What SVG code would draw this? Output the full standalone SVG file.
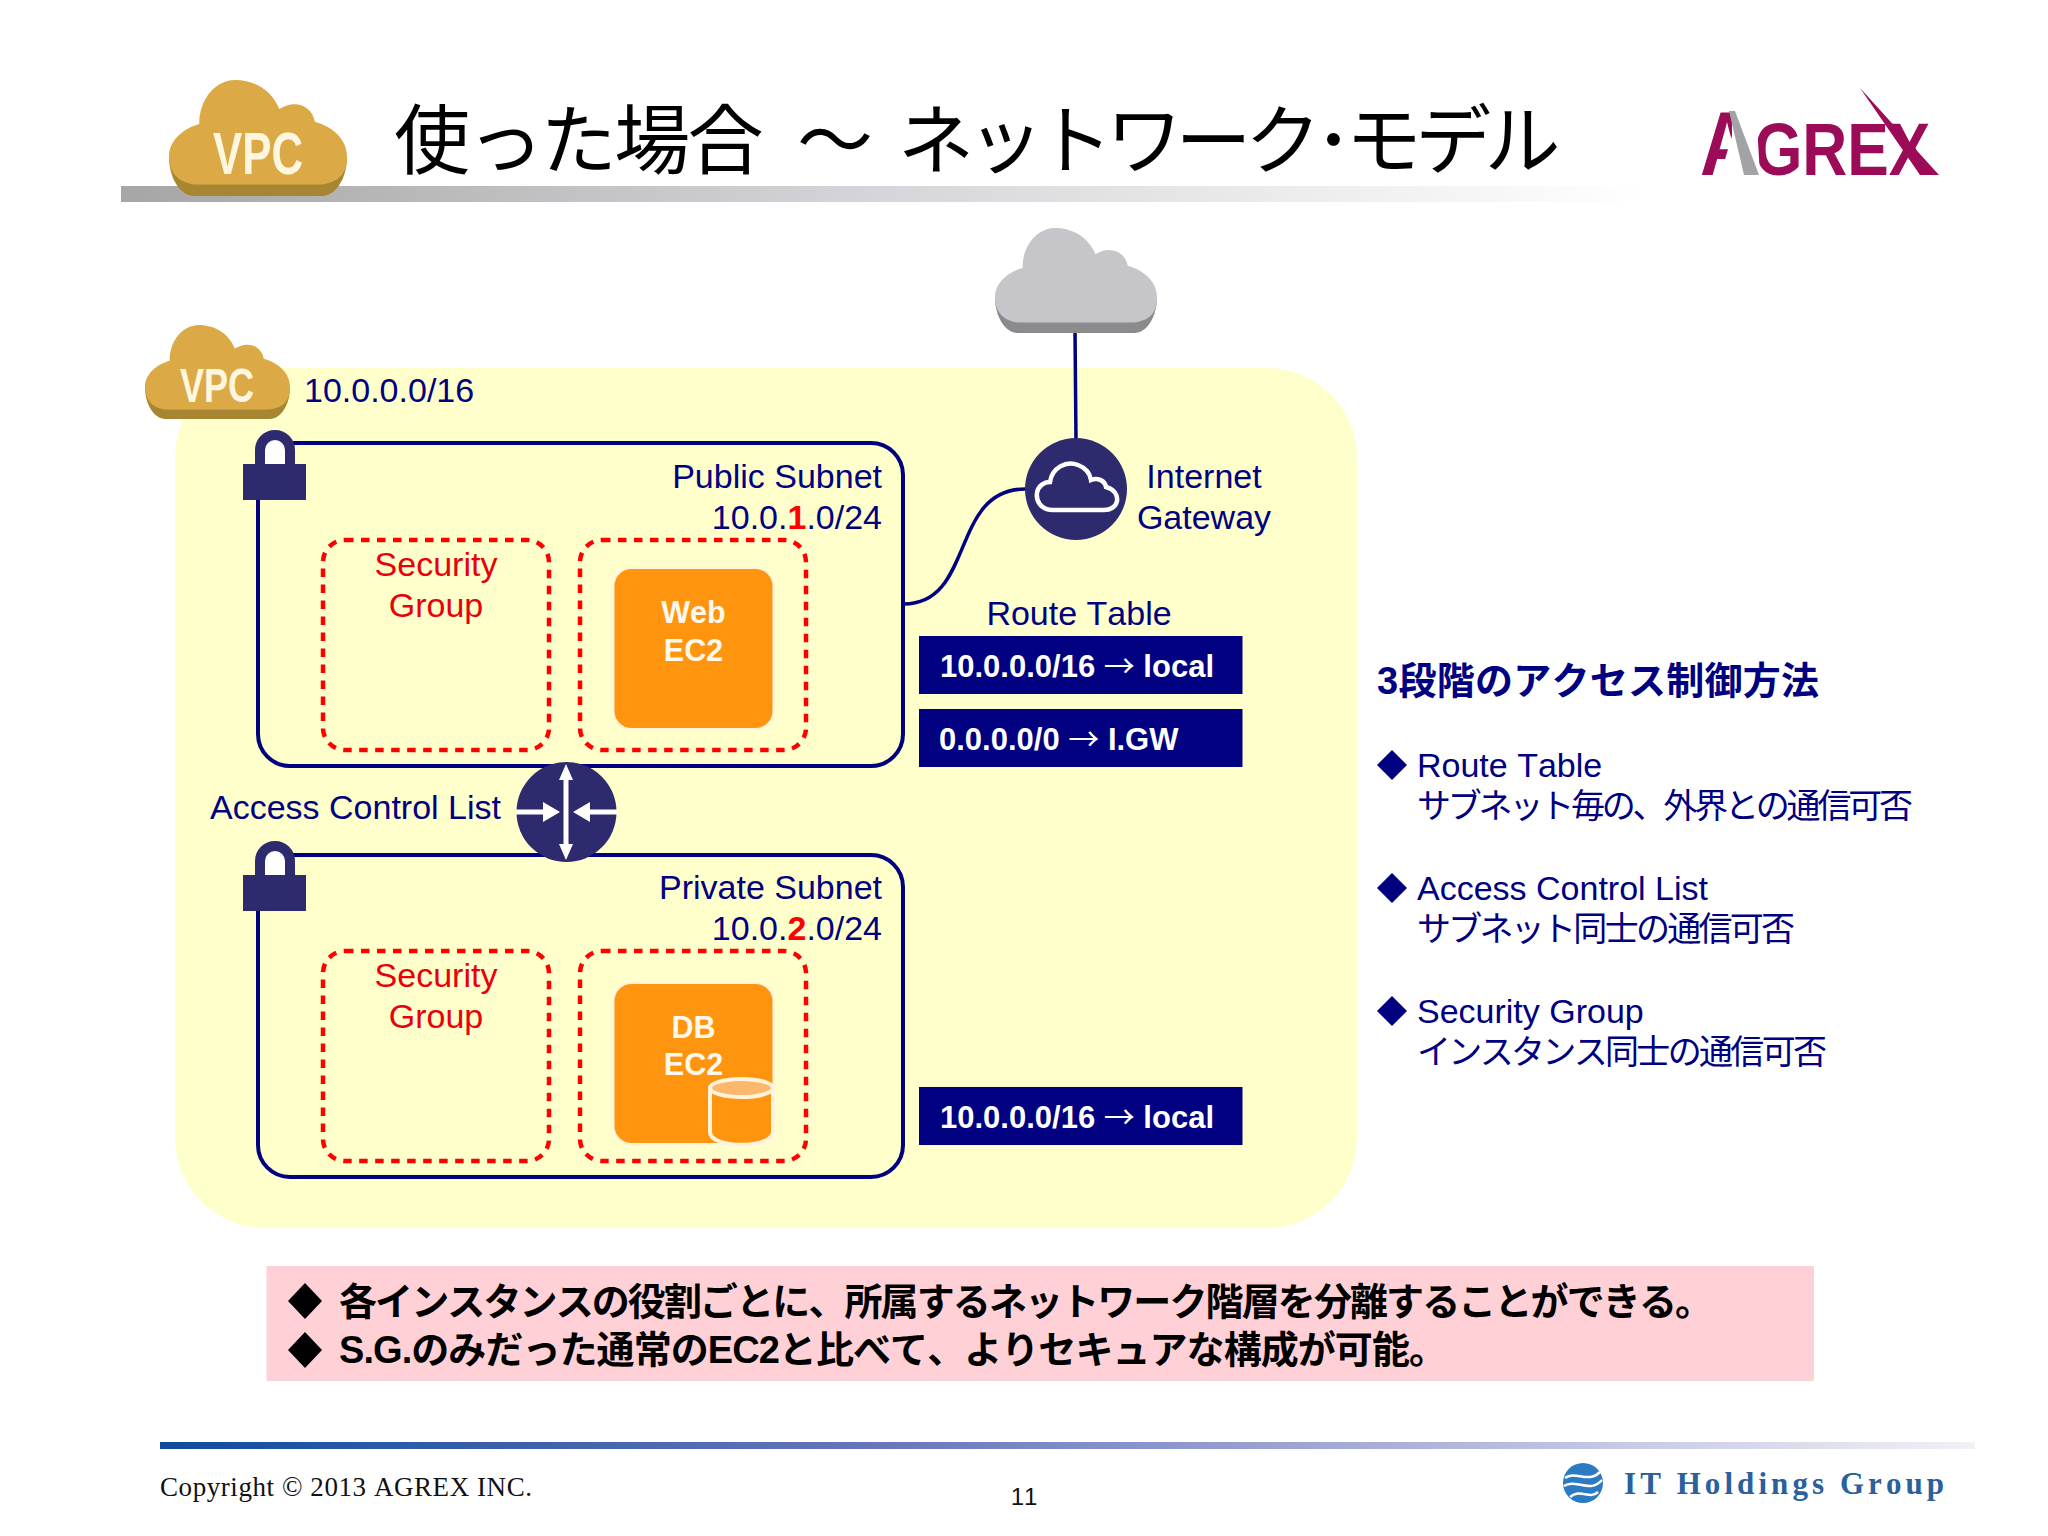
<svg xmlns="http://www.w3.org/2000/svg" width="2048" height="1536" viewBox="0 0 2048 1536">
<style>
text{font-family:"Liberation Sans","Noto Sans CJK JP",sans-serif;font-kerning:none}
.l{font-size:34px;fill:#000080}
.e{text-anchor:end}
.m{text-anchor:middle}
.sg{font-size:34px;fill:#E8000B;text-anchor:middle}
.ec{font-size:30.5px;font-weight:700;fill:#FFF8EC;text-anchor:middle}
.rt{font-size:31px;font-weight:700;fill:#fff}
.thin{font-weight:400;font-family:"Noto Sans CJK JP",sans-serif}
.j{font-size:34px}
.b{font-size:38px;font-weight:700;fill:#000}
.vpc{font-weight:700;fill:#FFF6E0;text-anchor:middle}
.sub{fill:none;stroke:#000080;stroke-width:4}
.dash{fill:none;stroke:#F00;stroke-width:4.5;stroke-dasharray:8.5 7.5}
.ec2{fill:#FF950E;stroke:#FFF3DC;stroke-width:2}
.conn{fill:none;stroke:#000080;stroke-width:3.5}
.dk{fill:#2E2A6E}
.rb{fill:#000080}
.dia{fill:#000080}
</style>
<defs>
<linearGradient id="g1"><stop offset="0" stop-color="#A6A6A8"/><stop offset=".5" stop-color="#D6D6DA"/><stop offset="1" stop-color="#fff"/></linearGradient>
<linearGradient id="g2"><stop offset="0" stop-color="#0F4C9C"/><stop offset=".4" stop-color="#6A76BC"/><stop offset=".75" stop-color="#B9BEE0"/><stop offset="1" stop-color="#F1F1F6"/></linearGradient>
<path id="cf" d="M14 90C4 88 0 78 0 66C0 52 8 42 17 38C17 15 27 0 37 0C49 0 58 10 62 25C70 17 80 21 82 36C93 41 100 52 100 66C100 80 96 88 86 90Z"/>
<path id="cb" d="M0 66C0 84 6 100 14 100L86 100C94 100 100 84 100 66Z"/>
<g id="lock"><path d="M260 470V450a15 15 0 0 1 30 0V470" fill="#fff" stroke="#2E2A6E" stroke-width="10"/><rect x="243" y="464" width="63" height="36" class="dk"/></g>
</defs>
<rect width="2048" height="1536" fill="#fff"/>
<g id="header">
<rect x="121" y="186" width="1523" height="16" fill="url(#g1)"/>
<g id="title-cloud"><g transform="translate(169 80) scale(1.78 1.16)"><use href="#cb" fill="#A88631"/><use href="#cf" fill="#DBAA47"/></g>
<text x="258" y="174" class="vpc" font-size="60" textLength="90" lengthAdjust="spacingAndGlyphs">VPC</text></g>
<text y="168" font-size="76" fill="#000" style="font-family:'Noto Sans CJK JP',sans-serif" xml:space="preserve"><tspan x="394" letter-spacing="-2.6">使った場合</tspan> <tspan x="797">～</tspan> <tspan x="898" letter-spacing="-6.6">ネットワーク･モデル</tspan></text>
<g id="logo">
<text transform="translate(1700 175) scale(.83 1)" font-weight="700" fill="#9B0B57" font-size="75"><tspan font-size="90">A</tspan><tspan>GREX</tspan></text>
<polygon points="1720,176 1732,136 1732,106 1756,106 1760,176" fill="#fff"/>
<polygon points="1729,111 1735,111 1759,175 1744,175" fill="#A3A3A6"/>
<polygon points="1860,88 1939,175 1920,175" fill="#9B0B57"/>
</g>
</g>
<g id="vpc">
<rect x="175" y="368" width="1182" height="860" rx="90" fill="#FFFFCC"/>
<g id="vpc-cloud"><g transform="translate(145 325) scale(1.45 .94)"><use href="#cb" fill="#A88631"/><use href="#cf" fill="#DBAA47"/></g>
<text x="217" y="402" class="vpc" font-size="48" textLength="74" lengthAdjust="spacingAndGlyphs">VPC</text></g>
<text x="304" y="402" class="l">10.0.0.0/16</text>
</g>
<g id="connectors">
<path class="conn" d="M1075 330L1076 440"/>
<path class="conn" d="M904 604C975 604 950 489 1025 489"/>
</g>
<g id="internet"><g transform="translate(995 228) scale(1.62 1.05)"><use href="#cb" fill="#8B8B8E"/><use href="#cf" fill="#C6C6CA"/></g></g>
<g id="public-subnet">
<rect x="258" y="443" width="645" height="323" rx="32" class="sub"/>
<use href="#lock"/>
<text x="882" y="488" class="l e">Public Subnet</text>
<text x="882" y="529" class="l e">10.0.<tspan fill="#F00" font-weight="700">1</tspan>.0/24</text>
</g>
<g id="sg-1"><rect x="323" y="540" width="226" height="210" rx="22" class="dash"/>
<text class="sg"><tspan x="436" y="576">Security</tspan><tspan x="436" y="617">Group</tspan></text></g>
<g id="sg-web"><rect x="580" y="540" width="226" height="210" rx="22" class="dash"/></g>
<g id="web-ec2"><rect x="613.5" y="568" width="160" height="161" rx="18" class="ec2"/>
<text class="ec"><tspan x="693.5" y="623">Web</tspan><tspan x="693.5" y="661">EC2</tspan></text></g>
<g id="private-subnet">
<rect x="258" y="855" width="645" height="322" rx="32" class="sub"/>
<use href="#lock" y="411"/>
<text x="882" y="899" class="l e">Private Subnet</text>
<text x="882" y="940" class="l e">10.0.<tspan fill="#F00" font-weight="700">2</tspan>.0/24</text>
</g>
<g id="sg-2"><rect x="323" y="951" width="226" height="210" rx="22" class="dash"/>
<text class="sg"><tspan x="436" y="987">Security</tspan><tspan x="436" y="1028">Group</tspan></text></g>
<g id="sg-db"><rect x="580" y="951" width="226" height="210" rx="22" class="dash"/></g>
<g id="db-ec2"><rect x="613.5" y="983" width="160" height="161" rx="18" class="ec2"/>
<text class="ec"><tspan x="693.5" y="1038">DB</tspan><tspan x="693.5" y="1075">EC2</tspan></text>
<path d="M710 1088V1132C710 1149 773 1149 773 1132V1088Z" fill="#FF950E" stroke="#FFF3DC" stroke-width="4"/>
<ellipse cx="741.5" cy="1088" rx="31.5" ry="9" fill="#FBB76B" stroke="#FFF3DC" stroke-width="4"/></g>
<g id="igw"><circle cx="1076" cy="489" r="51" class="dk"/>
<path d="M1053 510C1040 510 1036 500 1037 493C1038 486 1044 482 1050 482C1052 468 1066 460 1078 465C1086 468 1090 474 1091 480C1098 477 1105 481 1106 487C1114 489 1118 495 1117 501C1116 507 1110 510 1104 510Z" fill="none" stroke="#fff" stroke-width="4.5"/>
<text class="l m"><tspan x="1204" y="488">Internet</tspan><tspan x="1204" y="529">Gateway</tspan></text></g>
<g id="acl"><circle cx="566.5" cy="812" r="50" class="dk"/>
<path d="M566 776V848" stroke="#fff" stroke-width="5" fill="none"/>
<path d="M566 764L559 780H573ZM566 860L559 844H573Z" fill="#fff"/>
<path d="M516 812H546M617 812H587" stroke="#fff" stroke-width="5" fill="none"/>
<path d="M560 812L543 802V822ZM573 812L590 802V822Z" fill="#fff"/>
<text x="210" y="819" class="l">Access Control List</text></g>
<g id="route-table">
<text x="1079" y="625" class="l m">Route Table</text>
<rect x="919" y="636" width="323.5" height="58" class="rb"/>
<text x="940" y="677" class="rt">10.0.0.0/16 <tspan class="thin">→</tspan> local</text>
<rect x="919" y="709" width="323.5" height="58" class="rb"/>
<text x="939" y="750" class="rt">0.0.0.0/0 <tspan class="thin">→</tspan> I.GW</text>
</g>
<g id="route-table-private">
<rect x="919" y="1087" width="323.5" height="58" class="rb"/>
<text x="940" y="1128" class="rt">10.0.0.0/16 <tspan class="thin">→</tspan> local</text>
</g>
<g id="legend">
<text x="1377" y="694" font-weight="700" fill="#000080" font-size="38" textLength="442">3段階のアクセス制御方法</text>
<polygon class="dia" points="1392,750 1407,765 1392,780 1377,765"/>
<polygon class="dia" points="1392,873 1407,888 1392,903 1377,888"/>
<polygon class="dia" points="1392,996 1407,1011 1392,1026 1377,1011"/>
<text class="l"><tspan x="1417" y="777">Route Table</tspan><tspan x="1417" y="818" class="j" textLength="496">サブネット毎の、外界との通信可否</tspan></text>
<text class="l"><tspan x="1417" y="900">Access Control List</tspan><tspan x="1417" y="941" class="j" textLength="378">サブネット同士の通信可否</tspan></text>
<text class="l"><tspan x="1417" y="1023">Security Group</tspan><tspan x="1417" y="1064" class="j" textLength="410">インスタンス同士の通信可否</tspan></text>
</g>
<g id="note">
<rect x="266.5" y="1266" width="1547.5" height="115" fill="#FFD1D6"/>
<polygon points="305,1283 322,1301 305,1319 288,1301" fill="#000"/>
<polygon points="305,1332 322,1350 305,1368 288,1350" fill="#000"/>
<text class="b"><tspan x="339" y="1315" textLength="1374">各インスタンスの役割ごとに、所属するネットワーク階層を分離することができる。</tspan><tspan x="339" y="1363" textLength="1108">S.G.のみだった通常のEC2と比べて、よりセキュアな構成が可能。</tspan></text>
</g>
<g id="footer">
<rect x="160" y="1442" width="1815" height="7" fill="url(#g2)"/>
<text x="160" y="1496" font-size="27" fill="#111" style="font-family:'Liberation Serif',serif" textLength="372">Copyright © 2013 AGREX INC.</text>
<text x="1024" y="1505" font-size="24" fill="#111" text-anchor="middle">11</text>
<g id="it-holdings"><circle cx="1583" cy="1483" r="20" fill="#2C7BC2"/>
<path d="M1565 1478C1575 1470 1588 1484 1600 1472M1564 1486C1575 1478 1590 1494 1602 1480M1570 1497C1580 1488 1590 1500 1598 1492" fill="none" stroke="#fff" stroke-width="2.5"/>
<text x="1624" y="1494" font-size="31" font-weight="700" fill="#2A609E" style="font-family:'Liberation Serif',serif" textLength="320">IT Holdings Group</text></g>
</g>
</svg>
